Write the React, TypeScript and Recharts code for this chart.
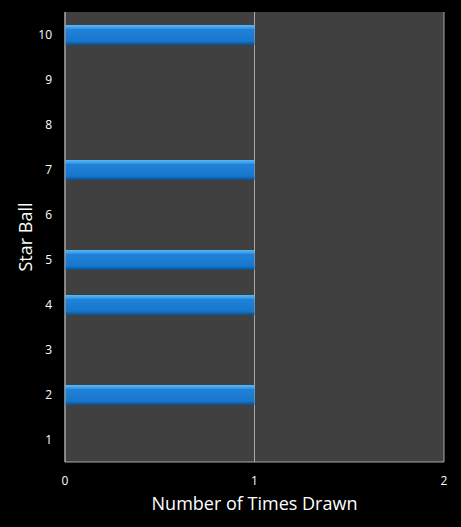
import { BarChart, Bar, XAxis, YAxis, CartesianGrid } from 'recharts';

const starBalls = ['1', '2', '3', '4', '5', '6', '7', '8', '9', '10'];
const timesDrawn = [0, 1, 0, 1, 1, 0, 1, 0, 0, 1];
const xTicks = [0, 1, 2];

const data = starBalls.map((name, i) => ({ name, value: timesDrawn[i] }));

const font = '"Open Sans", "Noto Sans", sans-serif';

export default function App() {
  return (
    <div style={{ position: 'fixed', left: 0, top: 0, width: 461, height: 527, background: '#000' }}>
      <BarChart
        width={461}
        height={527}
        data={data}
        layout="vertical"
        margin={{ top: 12, right: 17, bottom: 0, left: 0 }}
        barSize={20}
      >
        <defs>
          <linearGradient id="barFill" x1="0" y1="0" x2="0" y2="1">
            <stop offset="0%" stopColor="#5cb6f4" />
            <stop offset="15%" stopColor="#3a9ce8" />
            <stop offset="22%" stopColor="#1f82d8" />
            <stop offset="80%" stopColor="#1877cc" />
            <stop offset="100%" stopColor="#0b4f8e" />
          </linearGradient>
        </defs>
        <CartesianGrid
          horizontal={false}
          fill="#404040"
          fillOpacity={1}
          stroke="#a8a8a8"
          strokeWidth={1}
        />
        <XAxis
          type="number"
          domain={[0, 2]}
          ticks={xTicks}
          interval={0}
          height={65}
          tickLine={false}
          axisLine={{ stroke: '#a8a8a8' }}
          tickMargin={8}
          tick={{ fill: '#ffffff', fontSize: 12, fontFamily: font }}
          label={{
            value: 'Number of Times Drawn',
            position: 'insideBottom',
            offset: 17,
            fill: '#ffffff',
            fontSize: 18,
            fontFamily: font,
            style: { fill: '#ffffff' },
          }}
        />
        <YAxis
          type="category"
          dataKey="name"
          reversed
          width={65}
          interval={0}
          tickLine={false}
          axisLine={{ stroke: '#a8a8a8' }}
          tickMargin={7}
          tick={{ fill: '#ffffff', fontSize: 12, fontFamily: font }}
          label={{
            value: 'Star Ball',
            angle: -90,
            position: 'insideLeft',
            offset: 26,
            fill: '#ffffff',
            fontSize: 18,
            fontFamily: font,
            style: { textAnchor: 'middle', fill: '#ffffff' },
          }}
        />
        <Bar dataKey="value" fill="url(#barFill)" isAnimationActive={false} />
      </BarChart>
    </div>
  );
}
